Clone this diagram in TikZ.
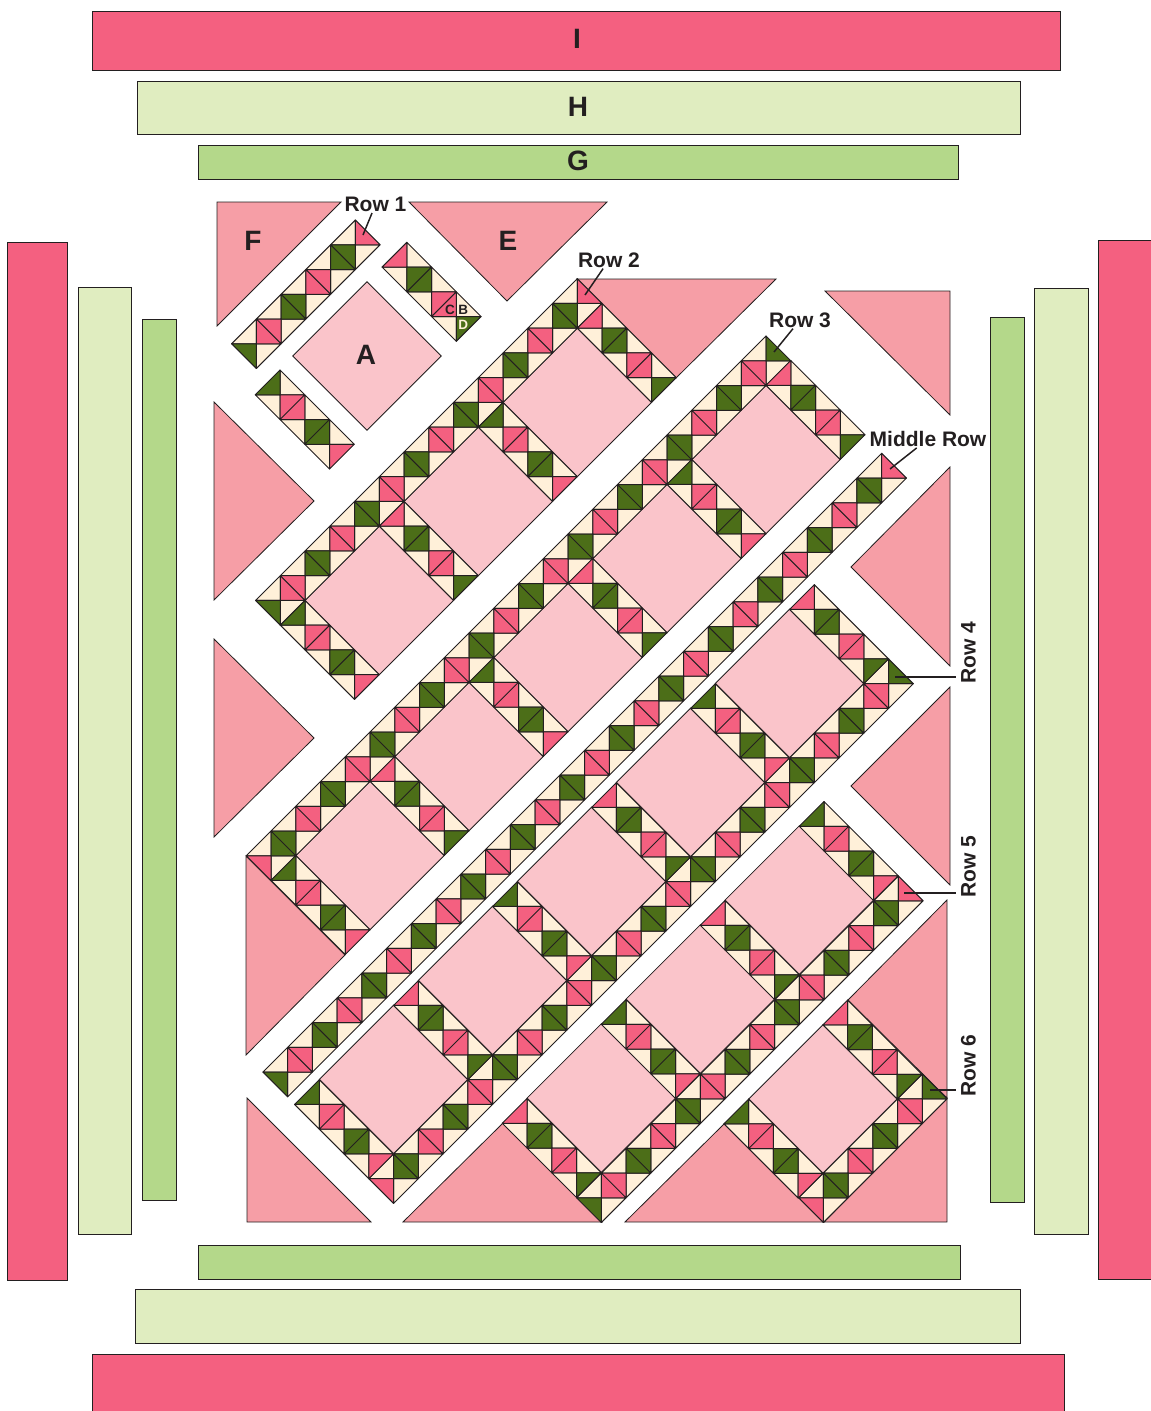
\documentclass[tikz,border=0pt]{standalone}
\usepackage{xcolor}
\usepackage{fontspec}
\setmainfont{Liberation Sans}
\usepackage{tikz}
\definecolor{rosepink}{RGB}{244,96,128}
\definecolor{leafgreen}{RGB}{76,110,24}
\definecolor{creamtan}{RGB}{255,240,217}
\definecolor{palegreen}{RGB}{224,237,192}
\definecolor{midgreen}{RGB}{180,216,138}
\definecolor{setpink}{RGB}{246,158,166}
\definecolor{blockpink}{RGB}{250,196,202}
\definecolor{inkdark}{RGB}{35,31,32}
\tikzset{
  piece/.style={draw=inkdark,line width=0.8pt,line join=miter},
  seam/.style={draw=inkdark,line width=1pt,line join=round},
  leader/.style={draw=inkdark,line width=1.5pt},
  rowlabel/.style={font=\bfseries\fontsize{21}{23}\selectfont,text=inkdark,inner sep=1pt},
  partlabel/.style={font=\bfseries\fontsize{28}{30}\selectfont,text=inkdark,inner sep=0pt},
  unitlabel/.style={font=\bfseries\fontsize{13.5}{14}\selectfont,text=inkdark,inner sep=0pt}
}
% strip of units: tip x, tip y, direction (-1 NE, 1 SE), last index, even colour, odd colour
\newcommand{\sashrow}[6]{%
  \begin{scope}[shift={(#1,#2)},xscale=#3*24.75,yscale=24.75]
    \filldraw[seam,fill=creamtan] \foreach \n in {1,...,#4}{
      (\n-1,\n-1) -- (\n,\n) -- (\n-1,\n) -- cycle
      (\n-1,\n) -- (\n-2,\n) -- (\n-1,\n+1) -- cycle};
    \filldraw[seam,fill=#5] (0,0) -- (-1,1) -- (0,1) -- cycle;
    \pgfmathtruncatemacro{\lastn}{#4-1}
    \foreach \n in {1,...,\lastn}{
      \ifodd\n\def\unitcol{#6}\else\def\unitcol{#5}\fi
      \filldraw[seam,fill=\unitcol] (\n-1,\n) rectangle (\n,\n+1) (\n,\n) -- (\n-1,\n+1);
    }
    \ifodd#4\def\unitcol{#6}\else\def\unitcol{#5}\fi
    \filldraw[seam,fill=\unitcol] (#4,#4) -- (#4-1,#4) -- (#4-1,#4+1) -- cycle;
  \end{scope}}
\begin{document}
\begin{tikzpicture}[x=1pt,y=-1pt]
  \useasboundingbox (0,0) rectangle (1151,1411);
  % outer borders
  \filldraw[piece,fill=rosepink] (92,11) rectangle (1060,70);
  \filldraw[piece,fill=palegreen] (137,81) rectangle (1020,134);
  \filldraw[piece,fill=midgreen] (198,145) rectangle (958,179);
  \filldraw[piece,fill=rosepink] (7,242) rectangle (67,1280);
  \filldraw[piece,fill=palegreen] (78,287) rectangle (131,1234);
  \filldraw[piece,fill=midgreen] (142,319) rectangle (176,1200);
  \filldraw[piece,fill=midgreen] (990,317) rectangle (1024,1202);
  \filldraw[piece,fill=palegreen] (1034,288) rectangle (1088,1234);
  \filldraw[piece,fill=rosepink] (1098,240) rectangle (1153,1279);
  \filldraw[piece,fill=midgreen] (198,1245) rectangle (960,1279);
  \filldraw[piece,fill=palegreen] (135,1289) rectangle (1020,1343);
  \filldraw[piece,fill=rosepink] (92,1354) rectangle (1064,1413);
  % setting triangles
  \foreach \ax/\ay/\bx/\by/\cx/\cy in {
      217/202/341/202/217/326, 409/202/607/202/507/301,
      577/279/776/279/676/378, 825/291/950/291/950/415,
      214/402/314/501/214/600, 214/639/314/738/214/837,
      246/856/345/955/246/1055, 950/467/851/567/950/666,
      950/687/851/786/950/885, 947/900/848/1000/947/1098,
      947/1098/824/1222/947/1222, 625/1222/824/1222/725/1123,
      403/1222/602/1222/503/1123, 247/1098/247/1222/371/1222}
    \filldraw[piece,fill=setpink] (\ax,\ay) -- (\bx,\by) -- (\cx,\cy) -- cycle;
  % plain blocks
  \foreach \cx/\cy in {
      367/356, 577.3/402.4, 478.3/501.4, 379.3/600.4,
      766/459.5, 667/558.5, 568/657.5, 469/756.5, 370/855.5,
      789.6/683.4, 690.6/782.4, 591.6/881.4, 492.6/980.4, 393.6/1079.4,
      799.3/900, 700.3/999, 601.3/1098, 823/1099}
    \filldraw[piece,fill=blockpink] (\cx-74.25,\cy) -- (\cx,\cy-74.25)
      -- (\cx+74.25,\cy) -- (\cx,\cy+74.25) -- cycle;
  % row 1
  \sashrow{355.3}{220}{-1}{5}{rosepink}{leafgreen}
  \sashrow{406.8}{242.3}{1}{3}{rosepink}{leafgreen}
  \sashrow{280}{370}{1}{3}{leafgreen}{rosepink}
  % row 2
  \sashrow{577.3}{278.7}{-1}{13}{rosepink}{leafgreen}
  \foreach \tx/\ty/\cola/\colb in {602/303.4/rosepink/leafgreen, 503/402.4/leafgreen/rosepink,
      404/501.4/rosepink/leafgreen, 305/600.4/leafgreen/rosepink}
    {\sashrow{\tx}{\ty}{1}{3}{\cola}{\colb}}
  % row 3
  \sashrow{766}{336}{-1}{21}{leafgreen}{rosepink}
  \foreach \tx/\ty/\cola/\colb in {790.75/360.5/rosepink/leafgreen, 691.75/459.5/leafgreen/rosepink,
      592.75/558.5/rosepink/leafgreen, 493.75/657.5/leafgreen/rosepink,
      394.75/756.5/rosepink/leafgreen, 295.75/855.5/leafgreen/rosepink}
    {\sashrow{\tx}{\ty}{1}{3}{\cola}{\colb}}
  % middle row
  \sashrow{881.7}{453.3}{-1}{25}{rosepink}{leafgreen}
  % row 4
  \sashrow{888.6}{658.9}{-1}{21}{leafgreen}{rosepink}
  \foreach \tx/\ty/\cola/\colb in {814.35/584.65/rosepink/leafgreen, 715.35/683.65/leafgreen/rosepink,
      616.35/782.65/rosepink/leafgreen, 517.35/881.65/leafgreen/rosepink,
      418.35/980.65/rosepink/leafgreen, 319.35/1079.65/leafgreen/rosepink}
    {\sashrow{\tx}{\ty}{1}{3}{\cola}{\colb}}
  % row 5
  \sashrow{898.3}{876}{-1}{13}{rosepink}{leafgreen}
  \foreach \tx/\ty/\cola/\colb in {824/801.5/leafgreen/rosepink, 725/900.5/rosepink/leafgreen,
      626/999.5/leafgreen/rosepink, 527/1098.5/rosepink/leafgreen}
    {\sashrow{\tx}{\ty}{1}{3}{\cola}{\colb}}
  % row 6
  \sashrow{922.3}{1074}{-1}{5}{leafgreen}{rosepink}
  \sashrow{847.7}{1000}{1}{3}{rosepink}{leafgreen}
  \sashrow{748.7}{1099}{1}{3}{leafgreen}{rosepink}
  % part letters
  \node[partlabel] (parti) at (577,39) {I};
  \node[partlabel] (parth) at (578,107) {H};
  \node[partlabel] (partg) at (578,161) {G};
  \node[partlabel] (partf) at (253,241) {F};
  \node[partlabel] (parte) at (508,241) {E};
  \node[partlabel] (parta) at (366,355) {A};
  \node[unitlabel] (unitc) at (450,310) {C};
  \node[unitlabel] (unitb) at (463.3,310) {B};
  \node[unitlabel,text=creamtan] (unitd) at (463.3,325) {D};
  % row labels
  \node[rowlabel] (rowone) at (375.5,204.5) {Row 1};
  \node[rowlabel] (rowtwo) at (609,260) {Row 2};
  \node[rowlabel] (rowthree) at (800,320) {Row 3};
  \node[rowlabel] (rowmiddle) at (928,439) {Middle Row};
  \node[rowlabel,rotate=90] (rowfour) at (968.5,652.5) {Row 4};
  \node[rowlabel,rotate=90] (rowfive) at (968.5,867) {Row 5};
  \node[rowlabel,rotate=90] (rowsix) at (968.5,1066) {Row 6};
  \coordinate (tipone) at (363,235);
  \coordinate (tiptwo) at (585,295);
  \coordinate (tipthree) at (774,352);
  \coordinate (tipmiddle) at (890,469);
  \coordinate (tipfour) at (895,677);
  \coordinate (tipfive) at (904,893);
  \coordinate (tipsix) at (930,1090);
  \draw[leader] (rowone) -- (tipone);
  \draw[leader] (rowtwo) -- (tiptwo);
  \draw[leader] (rowthree) -- (tipthree);
  \draw[leader] (rowmiddle) -- (tipmiddle);
  \draw[leader,shorten <=4pt] (rowfour.north |- tipfour) -- (tipfour);
  \draw[leader,shorten <=4pt] (rowfive.north |- tipfive) -- (tipfive);
  \draw[leader,shorten <=4pt] (rowsix.north |- tipsix) -- (tipsix);
\end{tikzpicture}
\end{document}
